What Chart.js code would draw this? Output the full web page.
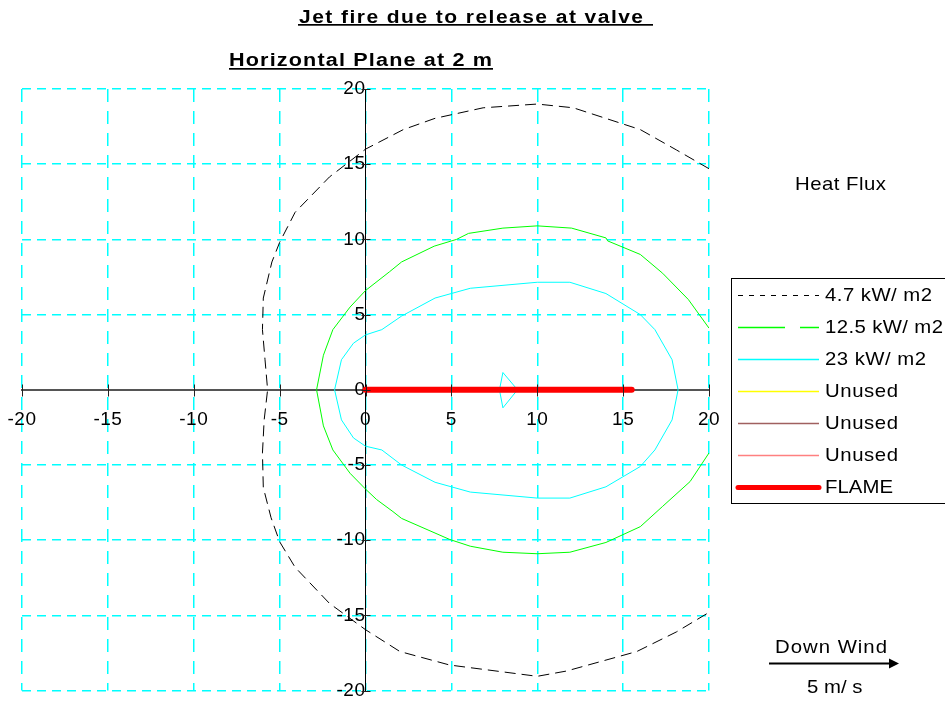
<!DOCTYPE html>
<html><head><meta charset="utf-8">
<script src="https://cdn.jsdelivr.net/npm/chart.js@4/dist/chart.umd.min.js"></script>
<style>html,body{margin:0;padding:0;background:#fff;} #wrap{width:945px;height:702px;position:relative;}</style>
</head><body><div id="wrap"><canvas id="c" width="945" height="702"></canvas></div>
<script>
// ---- text ----
const titleText = "Jet fire due to release at valve";
const subtitleText = "Horizontal Plane at 2 m";
const sideLabel = "Heat Flux";
const windLabel = "Down Wind";
const windSpeed = "5 m/ s";
const seriesNames = ["4.7 kW/ m2", "12.5 kW/ m2", "23 kW/ m2", "Unused", "Unused", "Unused", "FLAME"];
const axisTicks = [-20, -15, -10, -5, 0, 5, 10, 15, 20];

// ---- contour 4.7 kW/m2 ----
const flux47X = [20, 18.1, 16, 12.1, 10, 6.85, 4.05, 2.2, 0, -2.1, -4.1, -5, -5.45, -5.95, -6.0, -5.85, -5.7, -5.9, -6.0, -5.95, -5.5, -5.0, -4.1, -2.1, 0, 2.0, 4.9, 10, 11.7, 15.8, 18.1, 20];
const flux47Y = [14.7, 15.95, 17.3, 18.75, 19.0, 18.75, 18.05, 17.3, 16.0, 14.15, 11.8, 9.8, 8.5, 6.1, 4.0, 2.0, 0, -2.0, -4.2, -6.5, -8.5, -10.1, -11.8, -14.2, -15.95, -17.4, -18.3, -19.05, -18.7, -17.4, -16.1, -14.8];
// ---- contour 12.5 kW/m2 ----
const flux125X = [20, 18.8, 17.3, 16, 14.1, 14, 12, 10, 8, 6, 5.3, 4, 2.1, 1.4, 0, -0.9, -1.9, -2.45, -2.85, -2.45, -1.9, -0.9, 0, 0.65, 1.6, 2.1, 4.9, 6.1, 8, 10, 11.9, 14, 16, 17.3, 18.9, 20];
const flux125Y = [4.1, 6.0, 7.75, 9.0, 9.9, 10.1, 10.75, 10.9, 10.75, 10.4, 10.0, 9.55, 8.5, 7.85, 6.6, 5.5, 4.0, 2.3, 0, -2.4, -4.0, -5.55, -6.6, -7.3, -8.1, -8.55, -9.95, -10.4, -10.8, -10.9, -10.8, -10.15, -9.1, -7.75, -6.1, -4.2];
// ---- contour 23 kW/m2 ----
const flux23X = [18.2, 17.85, 16.85, 16, 14, 11.9, 10, 6.1, 4.05, 2.1, 0.95, 0, -0.7, -1.4, -1.8, -1.4, -0.7, 0, 0.95, 2.1, 4.05, 6.1, 10, 11.9, 14, 16, 16.85, 17.85, 18.2];
const flux23Y = [0, 2.0, 4.0, 5.0, 6.4, 7.15, 7.15, 6.75, 6.1, 4.9, 4.0, 3.65, 3.1, 2.0, 0, -2.0, -3.2, -3.75, -4.0, -5.0, -6.15, -6.8, -7.2, -7.2, -6.45, -5.1, -4.0, -2.0, 0];
// ---- wind marker ----
const markerX = [8.0, 8.85, 8.0, 7.8, 8.0];
const markerY = [1.15, 0, -1.2, 0, 1.15];
// ---- flame ----
const flameX = [0, 15.5];
const flameY = [0, 0];

const FONT = "'Liberation Sans', Arial, sans-serif";
Chart.defaults.font.family = FONT;
Chart.defaults.color = '#000';

function pts(xs, ys) { return xs.map((x, i) => ({ x: x, y: ys[i] })); }

// draw text starting at x, horizontally stretched by sx, spaced to fill width
function fitText(ctx, text, x, y, width, font, sx, baseline) {
  ctx.save();
  ctx.font = font;
  ctx.letterSpacing = '0px';
  const w0 = ctx.measureText(text).width;
  const s = Math.max((width / sx - w0) / (text.length - 1), 0);
  ctx.letterSpacing = s + 'px';
  ctx.textAlign = 'left';
  ctx.textBaseline = baseline || 'alphabetic';
  ctx.translate(x, y);
  ctx.scale(sx, 1);
  ctx.fillText(text, 0, 0);
  ctx.restore();
}

const legendWidths = [107, 118, 101, 73, 73, 73, 68];

const overlay = {
  id: 'overlay',
  beforeDraw(chart) { chart.ctx.letterSpacing = '0.5px'; },
  afterDraw(chart) {
    const ctx = chart.ctx;
    const xs = chart.scales.x, ys = chart.scales.y;
    ctx.save();
    ctx.letterSpacing = '0px';
    // tick marks crossing the axes
    ctx.strokeStyle = '#222';
    ctx.lineWidth = 1;
    const y0 = Math.round(ys.getPixelForValue(0)) + 0.5;
    const x0 = Math.round(xs.getPixelForValue(0)) + 0.5;
    ctx.beginPath();
    axisTicks.forEach(v => {
      const px = Math.round(xs.getPixelForValue(v)) + 0.5;
      ctx.moveTo(px, y0 - 6); ctx.lineTo(px, y0 + 6);
      const py = Math.round(ys.getPixelForValue(v)) + 0.5;
      ctx.moveTo(x0 - 5, py); ctx.lineTo(x0 + 4, py);
    });
    ctx.stroke();

    // titles
    ctx.fillStyle = '#000';
    fitText(ctx, titleText, 299, 22.5, 344, "bold 17.5px " + FONT, 1.2);
    ctx.fillRect(298, 24, 355, 1.7);
    fitText(ctx, subtitleText, 229, 66, 263, "bold 18px " + FONT, 1.2);
    ctx.fillRect(229, 68, 264, 1.7);

    // text annotations
    const f18 = "18.5px " + FONT;
    fitText(ctx, sideLabel, 795, 185, 91, f18, 1.1, 'middle');
    fitText(ctx, windLabel, 775, 648, 112, f18, 1.1, 'middle');
    fitText(ctx, windSpeed, 807, 688, 54, f18, 1.1, 'middle');

    // wind arrow
    ctx.lineWidth = 2;
    ctx.strokeStyle = '#000';
    ctx.beginPath(); ctx.moveTo(769, 663.5); ctx.lineTo(891, 663.5); ctx.stroke();
    ctx.beginPath(); ctx.moveTo(889, 658.5); ctx.lineTo(899, 663.5); ctx.lineTo(889, 668.5); ctx.closePath(); ctx.fill();

    // legend
    ctx.lineWidth = 1;
    ctx.strokeStyle = '#000';
    ctx.strokeRect(731.5, 278.5, 300, 225);
    const rows = chart.data.datasets.filter(d => d.inLegend !== false);
    rows.forEach((d, i) => {
      const yy = 295 + i * 32;
      ctx.save();
      ctx.strokeStyle = d.borderColor;
      ctx.lineWidth = d.legendWidth || 1.5;
      ctx.lineCap = d.legendWidth > 3 ? 'round' : 'butt';
      ctx.setLineDash(d.legendDash || []);
      ctx.beginPath(); ctx.moveTo(738, yy + 0.5); ctx.lineTo(819, yy + 0.5); ctx.stroke();
      ctx.restore();
      fitText(ctx, d.label, 825, yy + 1, legendWidths[i], f18, 1.1, 'middle');
    });
    ctx.restore();
  }
};

const common = { showLine: true, pointRadius: 0, pointHoverRadius: 0, fill: false, tension: 0 };

new Chart(document.getElementById('c'), {
  type: 'scatter',
  data: {
    datasets: [
      Object.assign({ label: seriesNames[0], data: pts(flux47X, flux47Y), borderColor: '#000000', borderWidth: 1, borderDash: [11, 6], order: 4, legendDash: [5, 6], legendWidth: 1.2 }, common),
      Object.assign({ label: seriesNames[1], data: pts(flux125X, flux125Y), borderColor: '#00FF00', borderWidth: 1, order: 3, legendDash: [47, 15] }, common),
      Object.assign({ label: seriesNames[2], data: pts(flux23X, flux23Y), borderColor: '#00FFFF', borderWidth: 1, order: 2 }, common),
      Object.assign({ label: seriesNames[3], data: [], borderColor: '#FFFF00', borderWidth: 1, order: 5 }, common),
      Object.assign({ label: seriesNames[4], data: [], borderColor: '#A0605F', borderWidth: 1, order: 5 }, common),
      Object.assign({ label: seriesNames[5], data: [], borderColor: '#FF8080', borderWidth: 1, order: 5 }, common),
      Object.assign({ label: seriesNames[6], data: pts(flameX, flameY), borderColor: '#FF0000', borderWidth: 6, borderCapStyle: 'round', order: 0, legendWidth: 5 }, common),
      Object.assign({ label: 'wind', data: pts(markerX, markerY), borderColor: '#00FFFF', borderWidth: 1, order: 1, inLegend: false }, common)
    ]
  },
  options: {
    responsive: false,
    devicePixelRatio: 1,
    animation: false,
    events: [],
    layout: { padding: { left: 22, top: 89, right: 236, bottom: 11 } },
    plugins: { legend: { display: false }, tooltip: { enabled: false }, title: { display: false } },
    scales: {
      x: {
        type: 'linear', min: -20, max: 20,
        position: { y: 0 },
        afterBuildTicks: s => { s.ticks = axisTicks.map(v => ({ value: v })); },
        afterFit: s => { s.height = 0; },
        grid: { color: '#00FFFF', lineWidth: 1.5, drawTicks: true, tickLength: 19, tickColor: 'rgba(0,0,0,0)' },
        border: { color: '#555', width: 2, dash: [13, 9] },
        ticks: { font: { size: 19 }, color: '#000', padding: 0, maxRotation: 0, autoSkip: false }
      },
      y: {
        type: 'linear', min: -20, max: 20,
        position: { x: 0 },
        afterBuildTicks: s => { s.ticks = axisTicks.map(v => ({ value: v })); },
        afterFit: s => { s.width = 0; },
        grid: { color: '#00FFFF', lineWidth: 1.5, drawTicks: true, tickLength: 15, tickColor: 'rgba(0,0,0,0)' },
        border: { color: '#000', width: 1, dash: [9, 6] },
        ticks: { font: { size: 19 }, color: '#000', padding: 0, autoSkip: false }
      }
    }
  },
  plugins: [overlay]
});
</script>
</body></html>
